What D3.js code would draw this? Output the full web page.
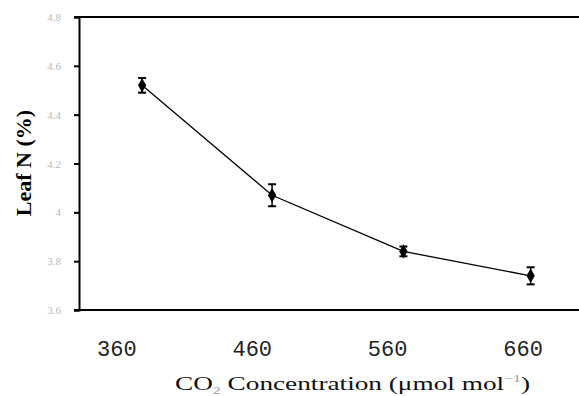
<!DOCTYPE html>
<html>
<head>
<meta charset="utf-8">
<script src="https://cdn.jsdelivr.net/npm/d3@7"></script>
<style>
  html, body { margin: 0; padding: 0; background: #fff; }
  svg { display: block; }
</style>
</head>
<body>
<div id="chart"></div>
<script>
// Leaf N (%) vs CO2 concentration
const co2 = [379, 475, 572, 666];
const leafN = [4.52, 4.07, 3.84, 3.74];
const leafErr = [0.03, 0.045, 0.02, 0.035];
const xTicks = [360, 460, 560, 660];
const yTicks = [3.6, 3.8, 4, 4.2, 4.4, 4.6, 4.8];

const width = 579, height = 396;
const margin = {top: 17, right: 0, bottom: 86, left: 79};

const svg = d3.select("#chart").append("svg")
  .attr("width", width).attr("height", height);

const x = d3.scaleLinear().domain([332.4, 701.7]).range([margin.left, width - margin.right]);
const y = d3.scaleLinear().domain([3.6, 4.8]).range([height - margin.bottom, margin.top]);

// y axis: outward ticks, grey labels
const yAxis = svg.append("g").attr("transform", `translate(${margin.left},0)`)
  .call(d3.axisLeft(y).tickValues(yTicks).tickSize(5).tickPadding(13).tickFormat(d3.format("")));
yAxis.select(".domain").attr("stroke-width", 2);
yAxis.selectAll(".tick line").attr("stroke-width", 2);
yAxis.selectAll("text").attr("font-family", "Liberation Serif").attr("font-size", 11)
  .attr("fill", "#b8b8b8");

// bottom axis: labels only
const xAxis = svg.append("g").attr("transform", `translate(0,${height - margin.bottom})`)
  .call(d3.axisBottom(x).tickValues(xTicks).tickSize(0).tickPadding(30));
xAxis.select(".domain").remove();
xAxis.selectAll("text").attr("font-family", "Liberation Mono").attr("font-size", 22)
  .attr("fill", "#222");

// frame lines (top and bottom)
svg.append("line").attr("x1", margin.left - 5).attr("x2", width)
  .attr("y1", y(3.6)).attr("y2", y(3.6)).attr("stroke", "#000").attr("stroke-width", 2);
svg.append("line").attr("x1", margin.left - 5).attr("x2", width)
  .attr("y1", y(4.8)).attr("y2", y(4.8)).attr("stroke", "#000").attr("stroke-width", 2);

// axis titles
const xt = svg.append("text").attr("x", 175).attr("y", 390)
  .attr("font-family", "Liberation Serif").attr("font-size", 19).attr("fill", "#111")
  .attr("textLength", 355).attr("lengthAdjust", "spacingAndGlyphs");
xt.append("tspan").text("CO");
xt.append("tspan").attr("font-size", 11).attr("dy", 4).attr("fill", "#999").text("2");
xt.append("tspan").attr("dy", -4).text(" Concentration (μmol mol");
xt.append("tspan").attr("font-size", 11).attr("dy", -8).attr("fill", "#999").text("−1");
xt.append("tspan").attr("dy", 8).text(")");

svg.append("text").attr("transform", "rotate(-90)")
  .attr("x", -163).attr("y", 31).attr("text-anchor", "middle")
  .attr("font-family", "Liberation Serif").attr("font-weight", "bold").attr("font-size", 22)
  .attr("fill", "#000").text("Leaf N (%)");

// data
const pts = co2.map((c, i) => ({c, v: leafN[i], e: leafErr[i]}));

svg.append("path").datum(pts)
  .attr("fill", "none").attr("stroke", "#000").attr("stroke-width", 1.3)
  .attr("d", d3.line().x(d => x(d.c)).y(d => y(d.v)));

const eb = svg.append("g").selectAll("g").data(pts).join("g");
eb.append("line").attr("x1", d => x(d.c)).attr("x2", d => x(d.c))
  .attr("y1", d => y(d.v + d.e)).attr("y2", d => y(d.v - d.e))
  .attr("stroke", "#000").attr("stroke-width", 1.5);
[1, -1].forEach(s => {
  eb.append("line").attr("x1", d => x(d.c) - 4).attr("x2", d => x(d.c) + 4)
    .attr("y1", d => y(d.v + s * d.e)).attr("y2", d => y(d.v + s * d.e))
    .attr("stroke", "#000").attr("stroke-width", 2);
});

svg.append("g").selectAll("path").data(pts).join("path")
  .attr("transform", d => `translate(${x(d.c)},${y(d.v)})`)
  .attr("d", d3.symbol(d3.symbolDiamond, 60))
  .attr("fill", "#000");
</script>
</body>
</html>
